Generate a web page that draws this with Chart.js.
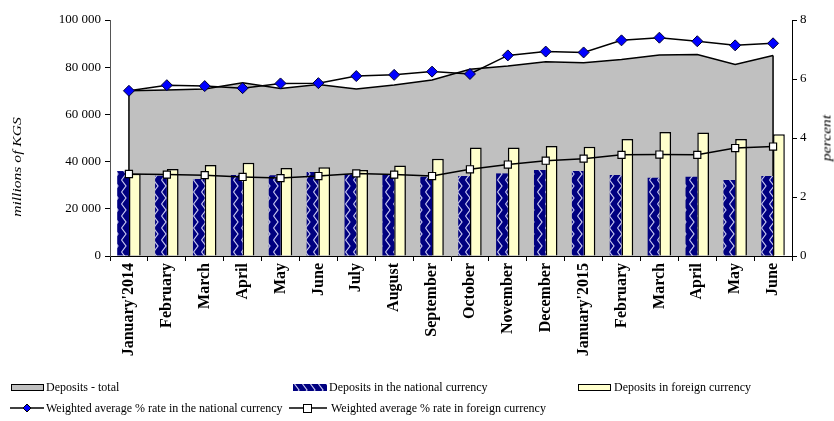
<!DOCTYPE html>
<html>
<head>
<meta charset="utf-8">
<script src="https://cdn.jsdelivr.net/npm/chart.js@4"></script>
<style>
  html, body { margin:0; padding:0; background:#fff; }
  #wrap { position:relative; width:834px; height:421px; overflow:hidden; font-family:"Liberation Serif", "Times New Roman", serif; }
  #c { position:absolute; left:0; top:0; }
  .ttl { position:absolute; font-style:italic; font-size:12px; white-space:nowrap; color:#000; }
  .lg { position:absolute; font-size:12px; white-space:nowrap; color:#000; line-height:14px; }
  .sw { position:absolute; box-sizing:border-box; }
</style>
</head>
<body>
<div id="wrap">
  <canvas id="c" width="834" height="421"></canvas>
  <div class="ttl" id="tl" style="left:17px; top:167px; transform:translate(-50%,-50%) rotate(-90deg) scaleX(1.3);">millions of KGS</div>
  <div class="ttl" id="tr" style="left:827px; top:138px; transform:translate(-50%,-50%) rotate(-90deg) scaleX(1.3);">percent</div>

  <div class="sw" style="left:11px; top:384px; width:33px; height:7px; background:#C0C0C0; border:1.5px solid #000;"></div>
  <div class="lg" style="left:46px; top:380px;">Deposits - total</div>
  <canvas class="sw" id="swNat" width="34" height="7" style="left:293px; top:384px;"></canvas>
  <div class="lg" style="left:329px; top:380px;">Deposits in the national currency</div>
  <div class="sw" style="left:578px; top:384px; width:33px; height:7px; background:#FFFFCC; border:1.5px solid #000;"></div>
  <div class="lg" style="left:614px; top:380px;">Deposits in foreign currency</div>

  <canvas class="sw" id="swL1" width="34" height="12" style="left:10px; top:402px;"></canvas>
  <div class="lg" style="left:46px; top:401px;">Weighted average % rate in the national currency</div>
  <canvas class="sw" id="swL2" width="38" height="12" style="left:289px; top:402px;"></canvas>
  <div class="lg" style="left:331px; top:401px;">Weighted average % rate in foreign currency</div>
</div>
<script>
const categories = ["January'2014","February","March","April","May","June","July","August","September","October","November","December","January'2015","February","March","April","May","June"];
const depositsTotal = [70000,70300,70800,73400,71000,72700,70800,72500,74600,79100,80500,82300,81900,83300,85200,85400,81200,85000];
const depositsNational = [36000,34000,32600,34300,34200,35600,34600,34600,33600,33900,35000,36400,36000,34300,33200,33600,32200,33900];
const depositsForeign = [34800,36900,38600,39500,37300,37600,36400,38300,41200,46000,46000,46600,46300,49600,52500,52300,49600,51600];
const rateNational = [5.60,5.79,5.76,5.69,5.85,5.86,6.10,6.14,6.25,6.17,6.80,6.93,6.90,7.31,7.40,7.28,7.14,7.21];
const rateForeign = [2.78,2.76,2.74,2.68,2.64,2.71,2.80,2.76,2.71,2.94,3.10,3.23,3.30,3.43,3.44,3.43,3.66,3.71];
const leftTicks = [0,20000,40000,60000,80000,100000];
const rightTicks = [0,2,4,6,8];

function makePattern() {
  const p = document.createElement('canvas');
  p.width = 8; p.height = 12;
  const g = p.getContext('2d');
  g.fillStyle = '#000080'; g.fillRect(0,0,8,12);
  g.strokeStyle = '#C8C8F0'; g.lineWidth = 1.2;
  g.beginPath(); g.moveTo(1.5,0); g.lineTo(6,6); g.lineTo(1.5,12); g.stroke();
  return p;
}
const patCanvas = makePattern();
const ctx = document.getElementById('c').getContext('2d');
const navyPattern = ctx.createPattern(patCanvas, 'repeat');

// legend swatches
(function(){
  const s = document.getElementById('swNat').getContext('2d');
  s.fillStyle = s.createPattern(patCanvas,'repeat'); s.fillRect(0,0,34,7);
  const l1 = document.getElementById('swL1').getContext('2d');
  l1.strokeStyle='#000'; l1.lineWidth=1.5; l1.beginPath(); l1.moveTo(0,6); l1.lineTo(34,6); l1.stroke();
  l1.fillStyle='#0000FF'; l1.beginPath(); l1.moveTo(17,2); l1.lineTo(21,6); l1.lineTo(17,10); l1.lineTo(13,6); l1.closePath(); l1.fill(); l1.lineWidth=1; l1.stroke();
  const l2 = document.getElementById('swL2').getContext('2d');
  l2.strokeStyle='#000'; l2.lineWidth=1.5; l2.beginPath(); l2.moveTo(0,6); l2.lineTo(38,6); l2.stroke();
  l2.fillStyle='#fff'; l2.fillRect(14.5,2.5,8,8); l2.lineWidth=1; l2.strokeRect(14.5,2.5,8,8);
})();

const areaEdges = {
  id: 'areaEdges',
  afterDatasetDraw(chart, args) {
    if (args.index !== 0) return;
    const meta = chart.getDatasetMeta(0);
    const y0 = chart.scales.y.getPixelForValue(0);
    const pts = meta.data;
    const c = chart.ctx;
    c.save();
    c.strokeStyle = '#000'; c.lineWidth = 1.5;
    c.beginPath();
    c.moveTo(pts[0].x, y0); c.lineTo(pts[0].x, pts[0].y);
    c.moveTo(pts[pts.length-1].x, y0); c.lineTo(pts[pts.length-1].x, pts[pts.length-1].y);
    c.stroke();
    c.restore();
  }
};

const fmt = v => String(v).replace(/\B(?=(\d{3})+(?!\d))/g, ' ');

new Chart(ctx, {
  type: 'bar',
  data: {
    labels: categories,
    datasets: [
      { type:'line', label:'Deposits - total', data: depositsTotal, yAxisID:'y', order:3,
        backgroundColor:'#C0C0C0', borderColor:'#000', borderWidth:1.5, fill:'origin', pointRadius:0, tension:0 },
      { type:'bar', label:'Deposits in the national currency', data: depositsNational, yAxisID:'y', order:2,
        backgroundColor: navyPattern, borderColor:'#000060', borderWidth:0,
        categoryPercentage:0.62, barPercentage:1.0 },
      { type:'bar', label:'Deposits in foreign currency', data: depositsForeign, yAxisID:'y', order:2,
        backgroundColor:'#FFFFCC', borderColor:'#000', borderWidth:1.5,
        categoryPercentage:0.62, barPercentage:1.0 },
      { type:'line', label:'Weighted average % rate in the national currency', data: rateNational, yAxisID:'y1', order:1,
        borderColor:'#000', borderWidth:1.5, pointStyle:'rectRot', pointRadius:5.5, pointBackgroundColor:'#0000FF',
        pointBorderColor:'#000033', pointBorderWidth:1, tension:0, fill:false },
      { type:'line', label:'Weighted average % rate in foreign currency', data: rateForeign, yAxisID:'y1', order:1,
        borderColor:'#000', borderWidth:1.5, pointStyle:'rect', pointRadius:5, pointBackgroundColor:'#FFFFFF',
        pointBorderColor:'#000', pointBorderWidth:1.2, tension:0, fill:false }
    ]
  },
  options: {
    responsive:false, animation:false,
    layout: { padding: { top:20, bottom:61, left:0, right:0 } },
    plugins: { legend:{ display:false }, tooltip:{ enabled:false } },
    scales: {
      x: {
        offset:true,
        grid: { offset:true, drawOnChartArea:false, color:'#000', tickLength:5, tickColor:'#000' },
        border: { color:'#000', width:1 },
        ticks: { minRotation:90, maxRotation:90, autoSkip:false, color:'#000', padding:2,
          font: { family:'"Liberation Serif", serif', size:16, weight:'bold' } },
        afterFit: s => { s.height = 104; }
      },
      y: {
        position:'left', min:0, max:100000,
        afterBuildTicks: s => { s.ticks = leftTicks.map(v => ({value:v})); },
        grid: { drawOnChartArea:false, color:'#000', tickLength:5, tickColor:'#000' },
        border: { color:'#555', width:1 },
        ticks: { color:'#000', padding:4, callback: v => fmt(v),
          font: { family:'"Liberation Serif", serif', size:13 } },
        afterFit: s => { s.width = 110; }
      },
      y1: {
        position:'right', min:0, max:8,
        afterBuildTicks: s => { s.ticks = rightTicks.map(v => ({value:v})); },
        grid: { drawOnChartArea:false, color:'#000', tickLength:5, tickColor:'#000' },
        border: { color:'#000', width:1 },
        ticks: { color:'#000', padding:3,
          font: { family:'"Liberation Serif", serif', size:13 } },
        afterFit: s => { s.width = 42; }
      }
    }
  },
  plugins: [areaEdges]
});
</script>
</body>
</html>
